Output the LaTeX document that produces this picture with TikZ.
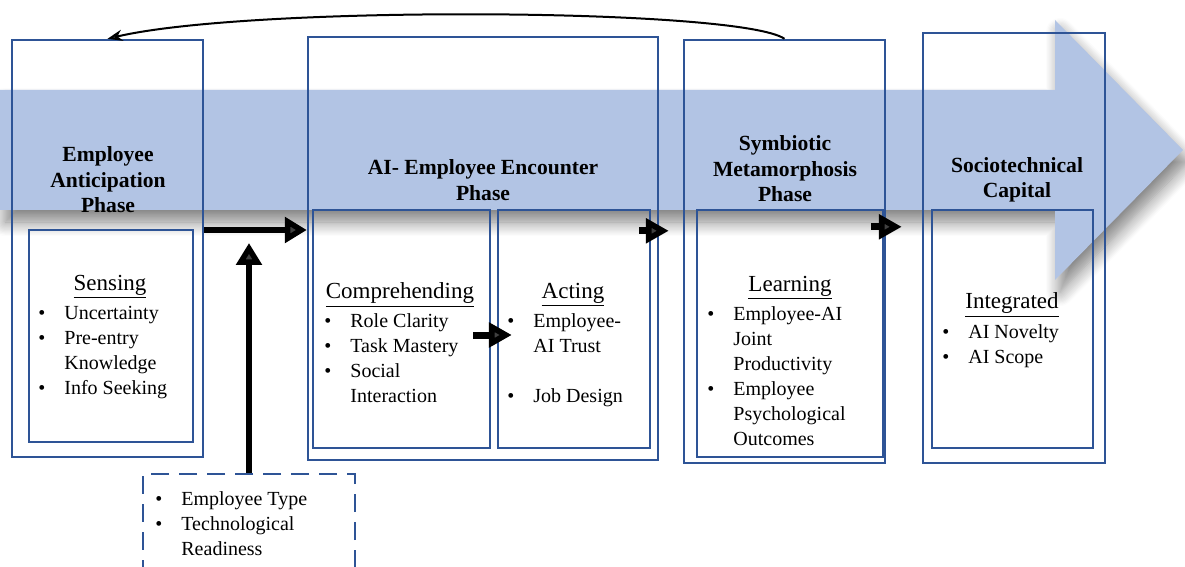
\documentclass[tikz,border=0pt]{standalone}
\usepackage{fontspec}
\setmainfont{Liberation Serif}
\usepackage{xcolor}
\usetikzlibrary{arrows.meta, positioning, calc, shadows.blur}
\definecolor{frame}{RGB}{46, 84, 150}
\definecolor{band}{RGB}{178, 196, 228}
\newcommand{\bul}{\makebox[13pt][l]{\textbullet}}
\newcommand{\ind}{\hspace*{13pt}}

\begin{document}
\begin{tikzpicture}[
    x=0.5pt, y=-0.5pt,
    >=Stealth,
    frm/.style 2 args={rectangle, draw=frame, line width=1.2pt,
      minimum width=#1, minimum height=#2, inner sep=0pt},
    title/.style={font=\bfseries\fontsize{10.8}{12.8}\selectfont, align=center},
    head/.style={font=\fontsize{11.5}{13}\selectfont},
    items/.style={font=\fontsize{10}{12.5}\selectfont, align=left,
      anchor=north west, inner sep=0pt},
    blk/.style={line width=3.2pt, -{Triangle[length=11pt, width=12.5pt]}},
    small/.style={line width=3.5pt, -{Triangle[length=11.5pt, width=12pt]}}
  ]
  \useasboundingbox (0,0) rectangle (1185,567);

  % process band behind the phases
  \path[fill=band, blur shadow={shadow xshift=2.5pt, shadow yshift=-6pt,
      shadow blur radius=7pt, shadow blur steps=12, shadow opacity=50}]
    (0,90) -- (1055,90) -- (1055,20) -- (1183,150) -- (1055,280)
    -- (1055,210) -- (0,210) -- cycle;

  % phases and their inner blocks
  \node[frm={95.5pt}{208.5pt}] (p1) at (107.5,248.5) {};
  \node[frm={82pt}{106pt}] (sense) at (111,336) {};
  \node[frm={175pt}{211.5pt}] (p2) at (483,248.5) {};
  \node[frm={88.5pt}{119pt}] (comp) at (401.5,329) {};
  \node[frm={76pt}{119pt}] (act) at (574,329) {};
  \node[frm={100.5pt}{211.5pt}] (p3) at (784.5,251.5) {};
  \node[frm={93pt}{123.5pt}] (learn) at (790,333.5) {};
  \node[frm={91pt}{215pt}] (p4) at (1014,248) {};
  \node[frm={80.5pt}{119pt}] (integ) at (1012.5,329) {};
  \node[frm={106pt}{53pt}, dash pattern=on 9pt off 5pt] (ext) at (249,527) {};

  \node[title] (t1) at (108,180) {Employee\\Anticipation\\Phase};
  \node[title] (t2) at (483,180) {AI- Employee Encounter\\Phase};
  \node[title] (t3) at (785,169) {Symbiotic\\Metamorphosis\\Phase};
  \node[title] (t4) at (1017,180) {Sociotechnical\\Capital};

  \node[head] (h1) at (110,287) {\underline{Sensing}};
  \node[head] (h2) at (400,295) {\underline{Comprehending}};
  \node[head] (h3) at (573,295) {\underline{Acting}};
  \node[head] (h4) at (790,288) {\underline{Learning}};
  \node[head] (h5) at (1012,305) {\underline{Integrated}};

  \node[items] (l1) at (38,306) {\bul Uncertainty\\ \bul Pre-entry\\ \ind Knowledge\\ \bul Info Seeking};
  \node[items] (l2) at (324,313) {\bul Role Clarity\\ \bul Task Mastery\\ \bul Social\\ \ind Interaction};
  \node[items] (l3) at (507,313) {\bul Employee-\\ \ind AI Trust\\[12.5pt] \bul Job Design};
  \node[items] (l4) at (707,306) {\bul Employee-AI\\ \ind Joint\\ \ind Productivity\\ \bul Employee\\ \ind Psychological\\ \ind Outcomes};
  \node[items] (l5) at (942,324) {\bul AI Novelty\\ \bul AI Scope};
  \node[items] (l6) at (155,491) {\bul Employee Type\\ \bul Technological\\ \ind Readiness};

  % flow between the phases
  \coordinate (m1) at ([yshift=9.25pt]p1.east);
  \draw[blk] (m1) -- (m1 -| p2.west);
  \draw[blk] (ext.north) -- ([yshift=-6.5pt]ext.north |- m1);
  \draw[small] ([shift={(-9pt,-3pt)}]comp.east) -- ([shift={(7.5pt,-3pt)}]act.west);
  \coordinate (m2) at ([shift={(-6pt,-11pt)}]act.north east);
  \draw[small] (m2) -- ([xshift=-7pt]m2 -| p3.west);
  \coordinate (m3) at ([shift={(-6.5pt,-9pt)}]learn.north east);
  \draw[small] (m3) -- ([xshift=-10pt]m3 -| p4.west);
  \draw[->, line width=1pt] (p3.north) .. controls (740,8) and (250,5) .. (p1.north);
\end{tikzpicture}
\end{document}
